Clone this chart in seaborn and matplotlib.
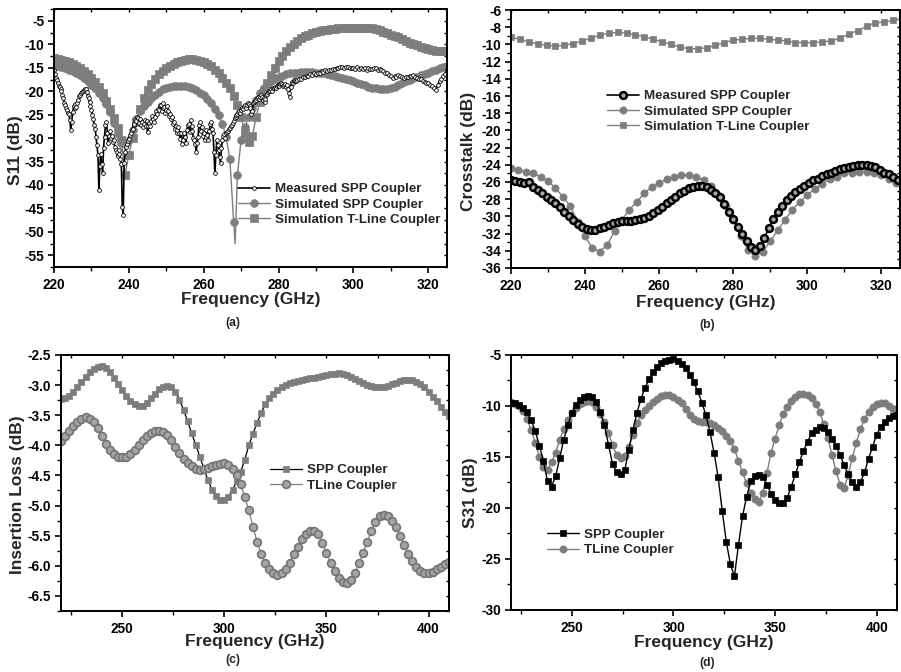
import numpy as np
import matplotlib
matplotlib.use("Agg")
import matplotlib.pyplot as plt
from matplotlib.lines import Line2D
from matplotlib.ticker import MultipleLocator, FormatStrFormatter
import seaborn as sns

# ---------------------------------------------------------------- data
# (a) S11, 220-325 GHz
# measured trace: 0.25 GHz samples up to 285 GHz, 0.5 GHz samples after
S11_MEAS_FINE_START, S11_MEAS_FINE_STEP = 220.0, 0.25
S11_MEAS_FINE = [
    -15.5, -16.4, -17.2, -17.6, -18.3, -18.9, -19.1, -19.6, -20.0, -20.9,
    -21.5, -22.4, -23.0, -23.6, -24.0, -24.6, -24.8, -26.2, -28.3, -26.5,
    -24.5, -23.2, -22.8, -23.6, -23.3, -22.4, -21.8, -21.1, -20.7, -20.4,
    -20.2, -19.9, -19.8, -19.6, -19.5, -20.1, -21.0, -21.5, -22.3, -23.2,
    -24.0, -25.0, -26.0, -27.1, -28.0, -29.8, -31.5, -33.5, -41.0, -36.0,
    -33.3, -35.6, -37.5, -32.0, -29.7, -27.2, -26.5, -28.8, -31.0, -29.6,
    -28.5, -29.9, -29.5, -30.8, -30.4, -31.9, -32.5, -33.0, -33.9, -32.6,
    -33.3, -34.5, -35.5, -44.6, -46.3, -35.4, -33.0, -31.8, -31.2, -30.6,
    -30.2, -29.4, -29.0, -28.3, -28.0, -27.2, -27.0, -26.1, -26.3, -25.4,
    -25.7, -26.8, -26.0, -27.1, -26.5, -27.6, -26.9, -26.2, -27.5, -26.4,
    -28.7, -27.4, -26.8, -27.5, -26.3, -25.3, -25.9, -26.6, -25.4, -24.3,
    -24.8, -23.7, -24.0, -22.9, -23.0, -24.2, -23.6, -22.6, -23.3, -24.6,
    -24.0, -23.2, -24.2, -25.3, -24.8, -26.0, -25.5, -27.0, -26.5, -28.0,
    -27.5, -29.0, -28.3, -27.6, -29.0, -30.2, -29.0, -31.3, -30.4, -29.0,
    -29.8, -31.0, -28.3, -27.3, -27.0, -28.6, -26.2, -27.4, -28.5, -30.0,
    -30.4, -31.2, -33.0, -31.0, -29.7, -27.2, -26.5, -28.4, -27.6, -29.5,
    -28.8, -30.5, -29.7, -28.2, -29.3, -30.4, -28.5, -27.0, -26.5, -28.0,
    -29.0, -33.0, -37.5, -33.5, -30.4, -31.5, -32.5, -34.0, -35.4, -32.0,
    -30.5, -29.6, -29.2, -30.0, -29.0, -28.6, -28.4, -28.1, -27.8, -27.4,
    -27.2, -26.8, -26.4, -25.8, -25.4, -25.0, -24.8, -24.5, -24.3, -24.6,
    -24.1, -23.6, -23.7, -23.2, -23.0, -23.6, -22.9, -22.5, -22.7, -23.2,
    -23.5, -24.8, -24.2, -22.6, -22.2, -22.0, -21.8, -21.4, -21.2, -21.6,
    -21.2, -20.9, -21.2, -21.8, -21.4, -22.2, -21.6, -20.8, -20.6, -20.2,
    -20.0, -19.9, -19.6, -20.0, -19.4, -19.2, -19.1, -19.4, -18.8, -18.6,
    -18.4, -18.8, -18.4, -18.2, -18.5, -18.9, -18.7, -18.4, -19.0, -18.6,
    -19.6, -20.4, -21.2, -19.0, -18.1, -18.3, -17.9, -17.6, -17.7, -17.8,
]
S11_MEAS_COARSE_START, S11_MEAS_COARSE_STEP = 285.0, 0.5
S11_MEAS_COARSE = [
    -17.6, -17.3, -17.4, -17.0, -17.0, -16.7, -16.7, -16.4, -16.5, -16.2,
    -16.3, -16.0, -16.0, -15.7, -15.8, -15.5, -15.6, -15.4, -15.5, -15.2,
    -15.3, -15.1, -15.1, -14.8, -14.9, -15.1, -14.8, -14.9, -15.1, -15.0,
    -15.0, -15.2, -14.9, -15.2, -15.0, -15.3, -15.1, -15.4, -15.0, -15.2,
    -15.3, -15.1, -15.0, -15.4, -15.2, -15.5, -15.6, -16.0, -16.0, -16.6,
    -16.8, -17.1, -16.8, -16.9, -16.6, -16.8, -16.9, -17.2, -16.9, -17.0,
    -16.7, -16.8, -16.6, -17.0, -17.1, -17.4, -17.3, -17.8, -18.0, -18.3,
    -18.2, -18.6, -18.8, -19.2, -19.8, -18.6, -17.9, -17.3, -16.8, -16.3,
    -15.5,
]
S11_SIM_START, S11_SIM_STEP = 220.0, 1.0
S11_SIM_SPP = [
    -14.4, -14.6, -14.8, -15.0, -15.4, -15.7, -16.1, -16.6, -17.1, -17.8,
    -18.6, -19.4, -20.4, -21.5, -22.8, -24.4, -26.7, -29.2, -31.0, -31.3,
    -30.5, -28.3, -26.0, -24.3, -23.2, -22.3, -21.4, -20.7, -20.1, -19.6,
    -19.2, -19.0, -18.9, -18.8, -18.8, -18.9, -19.1, -19.4, -19.8, -20.3,
    -20.9, -21.7, -22.6, -23.8, -25.0, -27.0, -29.8, -34.5, -47.8, -37.8,
    -30.4, -27.6, -25.5, -23.6, -21.8, -20.4, -19.3, -18.5, -17.8, -17.3,
    -17.0, -16.7, -16.4, -16.2, -16.1, -16.0, -15.9, -15.9, -15.9, -15.9,
    -16.0, -16.1, -16.2, -16.3, -16.5, -16.7, -16.9, -17.1, -17.3, -17.6,
    -17.9, -18.2, -18.4, -18.7, -19.0, -19.2, -19.4, -19.5, -19.6, -19.5,
    -19.3, -19.0, -18.7, -18.3, -17.9, -17.5, -17.2, -16.9, -16.6, -16.3,
    -16.0, -15.7, -15.4, -15.1, -14.9, -14.7,
]
# resonance notch of the simulated SPP coupler, between two marked samples
S11_SIM_SPP_NOTCH = (268.4, -52.5)
S11_SIM_TLINE = [
    -13.0, -13.1, -13.3, -13.5, -13.8, -14.1, -14.5, -15.0, -15.6, -16.3,
    -17.1, -18.0, -19.1, -20.4, -22.0, -23.8, -25.6, -27.8, -30.5, -37.8,
    -33.5, -30.0, -26.5, -23.8, -21.5, -19.8, -18.4, -17.3, -16.4, -15.6,
    -15.0, -14.5, -14.1, -13.8, -13.5, -13.3, -13.2, -13.2, -13.3, -13.5,
    -13.8, -14.2, -14.7, -15.4, -16.2, -17.1, -18.2, -19.4, -21.0, -23.0,
    -25.5, -28.8, -30.8, -29.5, -25.5, -22.3, -20.0, -18.2, -16.6, -15.0,
    -13.6, -12.5, -11.5, -10.6, -9.9, -9.2, -8.7, -8.3, -7.9, -7.6,
    -7.4, -7.2, -7.0, -6.9, -6.8, -6.7, -6.6, -6.5, -6.5, -6.4,
    -6.4, -6.4, -6.4, -6.4, -6.5, -6.6, -6.8, -7.0, -7.3, -7.6,
    -7.9, -8.2, -8.5, -8.9, -9.2, -9.6, -9.9, -10.2, -10.5, -10.8,
    -11.0, -11.2, -11.3, -11.4, -11.4, -11.4,
]

# (b) Crosstalk, 220-325 GHz
XT_MEAS_START, XT_MEAS_STEP = 220.0, 1.2
XT_MEAS = [
    -25.8, -25.85, -26.0, -26.1, -26.0, -26.6, -26.9, -27.3, -27.7, -28.1,
    -28.5, -28.9, -29.45, -29.95, -30.4, -30.9, -31.25, -31.5, -31.6, -31.6,
    -31.4, -31.2, -31.0, -30.8, -30.6, -30.5, -30.5, -30.5, -30.4, -30.35,
    -30.2, -29.9, -29.6, -29.25, -28.9, -28.5, -28.1, -27.7, -27.3, -27.0,
    -26.7, -26.55, -26.5, -26.5, -26.6, -26.9, -27.3, -27.8, -28.6, -29.45,
    -30.3, -31.2, -32.0, -32.9, -33.6, -33.9, -33.4, -32.5, -31.4, -30.3,
    -29.5, -28.8, -28.1, -27.6, -27.2, -26.8, -26.5, -26.1, -25.8, -25.6,
    -25.3, -25.1, -24.9, -24.7, -24.5, -24.4, -24.25, -24.1, -24.0, -24.0,
    -24.05, -24.15, -24.3, -24.6, -24.9, -25.1, -25.4, -25.8,
]
XT_SIM_SPP_START, XT_SIM_SPP_STEP = 220.0, 2.0
XT_SIM_SPP = [
    -24.4, -24.6, -24.8, -25.0, -25.4, -25.9, -26.7, -27.7, -28.8, -30.6,
    -32.3, -33.7, -34.1, -33.3, -31.7, -30.4, -29.2, -28.3, -27.3, -26.6,
    -26.1, -25.7, -25.4, -25.2, -25.2, -25.4, -25.8, -26.5, -27.5, -28.8,
    -30.4, -32.3, -33.9, -34.6, -34.1, -32.9, -31.6, -30.4, -29.2, -28.3,
    -27.5, -26.8, -26.2, -25.7, -25.4, -25.0, -24.9, -24.8, -24.8, -24.9,
    -25.2, -25.6, -26.1, -26.6,
]
XT_SIM_TL_START, XT_SIM_TL_STEP = 220.0, 2.4
XT_SIM_TLINE = [
    -9.17, -9.4, -9.7, -9.95, -10.1, -10.2, -10.1, -9.9, -9.6, -9.3,
    -8.9, -8.7, -8.6, -8.7, -8.9, -9.1, -9.4, -9.7, -10.0, -10.3,
    -10.5, -10.5, -10.4, -10.1, -9.8, -9.5, -9.4, -9.3, -9.3, -9.4,
    -9.5, -9.6, -9.8, -9.8, -9.8, -9.7, -9.6, -9.3, -8.8, -8.4,
    -7.9, -7.5, -7.4, -7.2, -7.0,
]

# (c) Insertion loss and (d) S31, 220-410 GHz
WB_START, WB_STEP = 220.0, 2.0
IL_SPP = [
    -3.23, -3.21, -3.18, -3.12, -3.04, -2.95, -2.86, -2.79, -2.73, -2.70,
    -2.69, -2.72, -2.79, -2.88, -2.98, -3.09, -3.18, -3.26, -3.32, -3.35,
    -3.34, -3.29, -3.22, -3.14, -3.07, -3.03, -3.02, -3.04, -3.11, -3.24,
    -3.41, -3.60, -3.80, -3.99, -4.19, -4.39, -4.58, -4.74, -4.84, -4.90,
    -4.91, -4.85, -4.74, -4.60, -4.44, -4.24, -4.00, -3.81, -3.63, -3.47,
    -3.32, -3.22, -3.14, -3.08, -3.03, -3.00, -2.97, -2.95, -2.93, -2.91,
    -2.90, -2.89, -2.88, -2.86, -2.85, -2.83, -2.82, -2.81, -2.80, -2.81,
    -2.84, -2.87, -2.90, -2.94, -2.97, -3.00, -3.02, -3.04, -3.04, -3.03,
    -3.01, -2.98, -2.96, -2.94, -2.92, -2.91, -2.92, -2.95, -2.99, -3.04,
    -3.11, -3.19, -3.27, -3.36, -3.44, -3.52,
]
IL_TLINE = [
    -3.93, -3.84, -3.76, -3.68, -3.61, -3.56, -3.53, -3.56, -3.62, -3.72,
    -3.85, -3.97, -4.07, -4.14, -4.19, -4.20, -4.19, -4.15, -4.08, -3.99,
    -3.92, -3.85, -3.80, -3.77, -3.76, -3.78, -3.83, -3.92, -4.02, -4.13,
    -4.22, -4.30, -4.35, -4.39, -4.41, -4.40, -4.38, -4.35, -4.33, -4.31,
    -4.30, -4.33, -4.40, -4.50, -4.65, -4.86, -5.08, -5.35, -5.60, -5.80,
    -5.96, -6.06, -6.12, -6.15, -6.12, -6.05, -5.95, -5.81, -5.68, -5.56,
    -5.47, -5.42, -5.42, -5.48, -5.62, -5.79, -5.95, -6.08, -6.20, -6.27,
    -6.29, -6.24, -6.12, -5.96, -5.78, -5.60, -5.42, -5.28, -5.18, -5.16,
    -5.18, -5.25, -5.35, -5.50, -5.65, -5.80, -5.92, -6.02, -6.08, -6.12,
    -6.12, -6.10, -6.06, -6.02, -5.97, -5.93,
]
S31_SPP = [
    -9.7, -9.75, -9.9, -10.2, -10.6, -11.4, -12.5, -13.9, -15.4, -17.4,
    -17.9, -16.9, -15.1, -13.3, -11.9, -10.7, -9.9, -9.45, -9.15, -9.0,
    -9.15, -9.6, -10.6, -11.9, -13.8, -15.7, -16.5, -16.7, -16.3, -14.3,
    -12.4, -10.7, -9.3, -8.2, -7.4, -6.7, -6.2, -5.8, -5.6, -5.45,
    -5.4, -5.55, -5.85, -6.25, -6.95, -7.7, -8.55, -9.7, -10.9, -12.6,
    -14.6, -17.0, -20.3, -23.3, -25.5, -26.7, -23.6, -20.8, -18.9, -17.4,
    -16.9, -16.8, -17.0, -17.7, -18.6, -19.2, -19.5, -19.5, -19.0, -17.9,
    -16.7, -15.5, -14.4, -13.5, -12.7, -12.4, -12.1, -12.2, -12.6, -13.2,
    -13.9, -14.8, -15.8, -16.7, -17.5, -17.9, -17.5, -16.5, -15.2, -14.0,
    -12.8, -12.1, -11.6, -11.2, -11.0, -10.9,
]
S31_TLINE = [
    -9.65, -9.8, -10.0, -10.5, -11.3, -12.4, -13.6, -15.0, -16.0, -16.3,
    -15.5, -14.6, -13.3, -12.3, -11.4, -10.7, -10.2, -9.85, -9.6, -9.5,
    -9.6, -10.1, -10.8, -11.6, -12.7, -13.8, -14.8, -15.1, -14.9, -14.0,
    -12.8, -11.7, -10.9, -10.4, -10.0, -9.6, -9.3, -9.05, -8.9, -8.9,
    -9.1, -9.4, -9.75, -10.25, -10.9, -11.3, -11.5, -11.6, -11.6, -11.7,
    -11.9, -12.2, -12.5, -12.9, -13.4, -14.2, -15.4, -16.5, -17.6, -18.5,
    -19.1, -19.4, -18.5, -16.6, -14.6, -13.2, -11.9, -10.8, -10.1, -9.5,
    -9.1, -8.8, -8.8, -8.9, -9.25, -9.8, -10.6, -11.8, -13.1, -14.8,
    -16.4, -17.7, -18.0, -16.8, -15.1, -13.6, -12.3, -11.3, -10.6, -10.1,
    -9.8, -9.7, -9.75, -10.0, -10.3, -10.6,
]

LEGEND_A = ["Measured SPP Coupler", "Simulated SPP Coupler", "Simulation T-Line Coupler"]
LEGEND_B = ["Measured SPP Coupler", "Simulated SPP Coupler", "Simulation T-Line Coupler"]
LEGEND_CD = ["SPP Coupler", "TLine Coupler"]
XLABEL = "Frequency (GHz)"


def grid(start, step, values):
    return start + step * np.arange(len(values))


# ---------------------------------------------------------------- style
sns.set_style("ticks")
plt.rcParams.update({
    "font.family": ["Liberation Sans", "DejaVu Sans"],
    "font.weight": "bold",
    "axes.labelweight": "bold",
    "axes.unicode_minus": False,
    "axes.linewidth": 1.4,
    "axes.edgecolor": "black",
    "xtick.color": "black",
    "ytick.color": "black",
})

GRAY = "#7d7d7d"
BLACK = "#000000"

fig = plt.figure(figsize=(9.01, 6.72), dpi=100)
ax_a = fig.add_axes([0.0599, 0.6027, 0.4362, 0.3835])
ax_b = fig.add_axes([0.5671, 0.6012, 0.4317, 0.3839])
ax_c = fig.add_axes([0.0677, 0.0908, 0.4306, 0.3810])
ax_d = fig.add_axes([0.5671, 0.0923, 0.4284, 0.3795])


def series(ax, f, v, color, marker, ms, mfc, mec, mew=0.8, lw=1.0, **kw):
    sns.lineplot(x=f, y=v, ax=ax, color=color, marker=marker,
                 markersize=ms, markerfacecolor=mfc, markeredgecolor=mec,
                 markeredgewidth=mew, linewidth=lw, estimator=None,
                 sort=False, legend=False, **kw)


def proxy(color, marker, ms, mfc, mec, mew=0.8, lw=1.0):
    return Line2D([], [], color=color, marker=marker, markersize=ms,
                  markerfacecolor=mfc, markeredgecolor=mec,
                  markeredgewidth=mew, linewidth=lw)


def style_axes(ax, xlim, ylim, xmaj, xmin, ymaj, ymin, yfmt, xlab, ylab,
               xlab_pos, ylab_pos):
    ax.set_xlim(*xlim)
    ax.set_ylim(*ylim)
    ax.xaxis.set_major_locator(MultipleLocator(xmaj))
    ax.xaxis.set_minor_locator(MultipleLocator(xmin))
    ax.yaxis.set_major_locator(MultipleLocator(ymaj))
    ax.yaxis.set_minor_locator(MultipleLocator(ymin))
    ax.yaxis.set_major_formatter(FormatStrFormatter(yfmt))
    ax.tick_params(which="major", direction="out", length=4.5, width=1.2,
                   labelsize=9.8, pad=2.5)
    ax.tick_params(which="minor", direction="out", length=2.8, width=1.0)
    ax.tick_params(axis="x", pad=3.5)
    for side in ax.spines.values():
        side.set_visible(True)
        side.set_linewidth(1.4)
    top = ax.secondary_xaxis("top")
    top.xaxis.set_major_locator(MultipleLocator(xmaj))
    top.xaxis.set_minor_locator(MultipleLocator(xmin))
    top.tick_params(which="both", direction="in", length=2.5, width=1.0,
                    labeltop=False)
    right = ax.secondary_yaxis("right")
    right.yaxis.set_major_locator(MultipleLocator(ymaj))
    right.yaxis.set_minor_locator(MultipleLocator(ymin))
    right.tick_params(which="both", direction="in", length=2.5, width=1.0,
                      labelright=False)
    ax.set_xlabel(xlab, fontsize=12.5, fontweight="bold")
    ax.set_ylabel(ylab, fontsize=12.5, fontweight="bold")
    ax.xaxis.set_label_coords(*xlab_pos)
    ax.xaxis.label.set_va("center")
    ax.yaxis.set_label_coords(*ylab_pos)
    ax.yaxis.label.set_va("center")


def legend(ax, handles, labels, anchor, spacing=0.22):
    ax.legend(handles, labels, loc="center left", bbox_to_anchor=anchor,
              frameon=False, borderaxespad=0, borderpad=0,
              handlelength=2.4, handletextpad=0.35, labelspacing=spacing,
              prop={"weight": "bold", "size": 9.6})


# ---------------------------------------------------------------- (a)
f_meas = np.concatenate([
    grid(S11_MEAS_FINE_START, S11_MEAS_FINE_STEP, S11_MEAS_FINE),
    grid(S11_MEAS_COARSE_START, S11_MEAS_COARSE_STEP, S11_MEAS_COARSE),
])
v_meas = np.concatenate([S11_MEAS_FINE, S11_MEAS_COARSE])
f_sim = grid(S11_SIM_START, S11_SIM_STEP, S11_SIM_SPP)
k = int(np.searchsorted(f_sim, S11_SIM_SPP_NOTCH[0]))
f_spp = np.insert(f_sim, k, S11_SIM_SPP_NOTCH[0])
v_spp = np.insert(np.asarray(S11_SIM_SPP), k, S11_SIM_SPP_NOTCH[1])
mark_spp = [i != k for i in range(len(f_spp))]

series(ax_a, f_sim, S11_SIM_TLINE, GRAY, "s", 5.4, GRAY, GRAY, 0.5, 1.0)
series(ax_a, f_spp, v_spp, GRAY, "o", 5.6, GRAY, GRAY, 0.5, 1.0,
       markevery=mark_spp)
series(ax_a, f_meas, v_meas, BLACK, "o", 2.7, "white", BLACK, 0.6, 1.2)

h_a = [proxy(BLACK, "o", 2.7, "white", BLACK, 0.6, 1.2),
       proxy(GRAY, "o", 5.6, GRAY, GRAY, 0.5, 1.0),
       proxy(GRAY, "s", 5.4, GRAY, GRAY, 0.5, 1.0)]
style_axes(ax_a, (220, 325), (-57.5, -2.5), 20, 10, 5, 2.5, "%d",
           XLABEL, "S11 (dB)", (0.501, -0.128), (-0.097, 0.454))
legend(ax_a, h_a, LEGEND_A, (0.468, 0.2425))

# ---------------------------------------------------------------- (b)
series(ax_b, grid(XT_SIM_TL_START, XT_SIM_TL_STEP, XT_SIM_TLINE),
       XT_SIM_TLINE, GRAY, "s", 4.8, GRAY, GRAY, 0.5, 1.0)
series(ax_b, grid(XT_SIM_SPP_START, XT_SIM_SPP_STEP, XT_SIM_SPP),
       XT_SIM_SPP, GRAY, "o", 5.2, GRAY, GRAY, 0.5, 1.0)
series(ax_b, grid(XT_MEAS_START, XT_MEAS_STEP, XT_MEAS),
       XT_MEAS, BLACK, "o", 4.9, "#a8a8a8", BLACK, 1.8, 1.2)

h_b = [proxy(BLACK, "o", 4.9, "#a8a8a8", BLACK, 1.8, 1.2),
       proxy(GRAY, "o", 5.2, GRAY, GRAY, 0.5, 1.0),
       proxy(GRAY, "s", 4.8, GRAY, GRAY, 0.5, 1.0)]
style_axes(ax_b, (220, 325), (-36, -6), 20, 10, 2, 1, "%d",
           XLABEL, "Crosstalk (dB)", (0.501, -0.132), (-0.11, 0.453))
legend(ax_b, h_b, LEGEND_B, (0.247, 0.607))

# ---------------------------------------------------------------- (c)
f_wb = grid(WB_START, WB_STEP, IL_SPP)
series(ax_c, f_wb, IL_SPP, BLACK, "s", 4.6, GRAY, GRAY, 0.5, 0.9)
series(ax_c, f_wb, IL_TLINE, GRAY, "o", 5.6, "#a4a4a4", "#747474", 1.2, 0.9)

h_c = [proxy(BLACK, "s", 4.6, GRAY, GRAY, 0.5, 0.9),
       proxy(GRAY, "o", 5.6, "#a4a4a4", "#747474", 1.2, 0.9)]
style_axes(ax_c, (220, 410), (-6.75, -2.5), 50, 25, 0.5, 0.25, "%.1f",
           XLABEL, "Insertion Loss (dB)", (0.5, -0.121), (-0.113, 0.453))
legend(ax_c, h_c, LEGEND_CD, (0.539, 0.52))

# ---------------------------------------------------------------- (d)
series(ax_d, f_wb, S31_TLINE, GRAY, "o", 5.2, GRAY, GRAY, 0.5, 1.0)
series(ax_d, f_wb, S31_SPP, BLACK, "s", 4.6, BLACK, BLACK, 0.5, 1.0)

h_d = [proxy(BLACK, "s", 4.6, BLACK, BLACK, 0.5, 1.0),
       proxy(GRAY, "o", 5.2, GRAY, GRAY, 0.5, 1.0)]
style_axes(ax_d, (220, 410), (-30, -5), 50, 25, 5, 2.5, "%d",
           XLABEL, "S31 (dB)", (0.5, -0.129), (-0.104, 0.459))
legend(ax_d, h_d, LEGEND_CD, (0.093, 0.265))

# ---------------------------------------------------------------- panel tags
for tag, x, y in [("(a)", 233, 323), ("(b)", 707, 325),
                  ("(c)", 233, 660), ("(d)", 707, 663)]:
    fig.text(x / 901, 1 - y / 672, tag, ha="center", va="center",
             fontsize=8.8, fontweight="bold")

fig.savefig("out.png", dpi=100)
